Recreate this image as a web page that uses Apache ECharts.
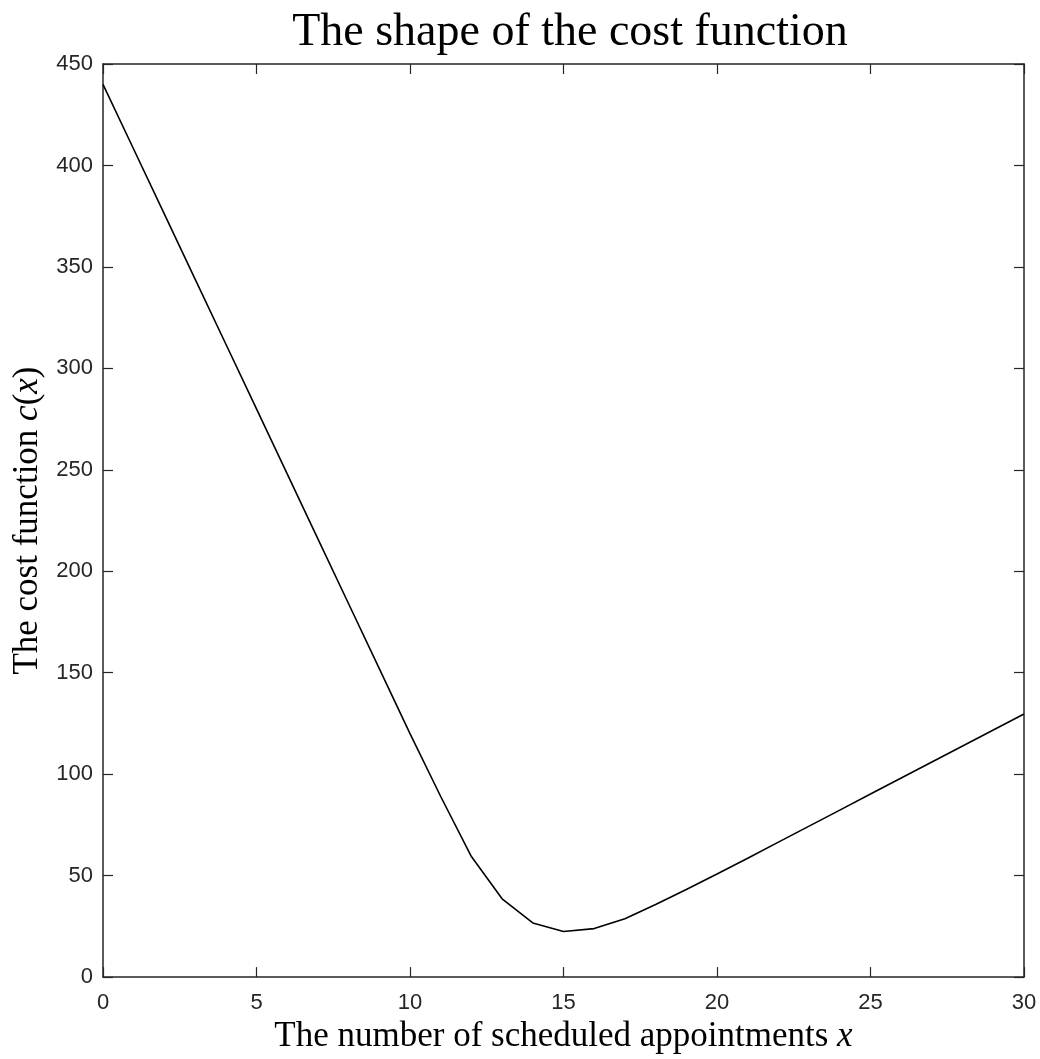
<!DOCTYPE html>
<html>
<head>
<meta charset="utf-8">
<script src="https://cdn.jsdelivr.net/npm/echarts@6/dist/echarts.min.js"></script>
<style>html,body{margin:0;padding:0;background:#fff}#c{width:1040px;height:1059px}</style>
</head>
<body>
<div id="c"></div>
<script>
var xValues = [0,1,2,3,4,5,6,7,8,9,10,11,12,13,14,15,16,17,18,19,20,21,22,23,24,25,26,27,28,29,30];
var costValues = [440,408,376,344,312,280,248,216,184,152,120,89,59.4,38.6,26.7,22.5,23.9,28.8,35.8,43.2,50.8,58.6,66.5,74.4,82.3,90.2,98.1,106,113.9,121.8,129.7];
var xTicks = [0,5,10,15,20,25,30];
var yTicks = [0,50,100,150,200,250,300,350,400,450];
var titleText = 'The shape of the cost function';

var data = xValues.map(function(x,i){return [x,costValues[i]];});
var axisColor = '#262626';
var serif = '"Liberation Serif", "DejaVu Serif", serif';
var chart = echarts.init(document.getElementById('c'), null, {renderer:'canvas'});
function common(){
  return {
    axisLine:{show:true, onZero:false, lineStyle:{color:axisColor, width:1.5}},
    axisTick:{show:true, inside:true, length:10, lineStyle:{color:axisColor, width:1.2}},
    splitLine:{show:false}
  };
}
chart.setOption({
  backgroundColor:'#fff',
  animation:false,
  title:{text:titleText, left:565, top:5, textAlign:'center',
    textStyle:{fontFamily:serif, fontSize:46, fontWeight:'normal', color:'#000'}},
  grid:{left:103, right:16, top:64, bottom:74, containLabel:false},
  xAxis:[
    Object.assign({type:'value', min:xTicks[0], max:xTicks[xTicks.length-1], interval:5, position:'bottom',
      axisLabel:{color:axisColor, fontSize:22, fontFamily:'"Liberation Sans", Arial, sans-serif', margin:15},
      name:'{a|The number of scheduled appointments }{i|x}', nameLocation:'middle', nameGap:40,
      nameTextStyle:{rich:{a:{fontFamily:serif, fontSize:35, color:'#000'}, i:{fontFamily:serif, fontSize:35, fontStyle:'italic', color:'#000'}}}
    }, common()),
    Object.assign({type:'value', min:0, max:30, interval:5, position:'top', axisLabel:{show:false}}, common())
  ],
  yAxis:[
    Object.assign({type:'value', min:yTicks[0], max:yTicks[yTicks.length-1], interval:50, position:'left',
      axisLabel:{color:axisColor, fontSize:22, fontFamily:'"Liberation Sans", Arial, sans-serif', margin:10},
      name:'{a|The cost function }{i|c}{a|(}{i|x}{a|)}', nameLocation:'middle', nameGap:56, nameRotate:90,
      nameTextStyle:{rich:{a:{fontFamily:serif, fontSize:35, color:'#000'}, i:{fontFamily:serif, fontSize:35, fontStyle:'italic', color:'#000'}}}
    }, common()),
    Object.assign({type:'value', min:0, max:450, interval:50, position:'right', axisLabel:{show:false}}, common())
  ],
  series:[{type:'line', data:data, showSymbol:false, symbol:'none', xAxisIndex:0, yAxisIndex:0,
    lineStyle:{color:'#000', width:1.6}}]
});
</script>
</body>
</html>
